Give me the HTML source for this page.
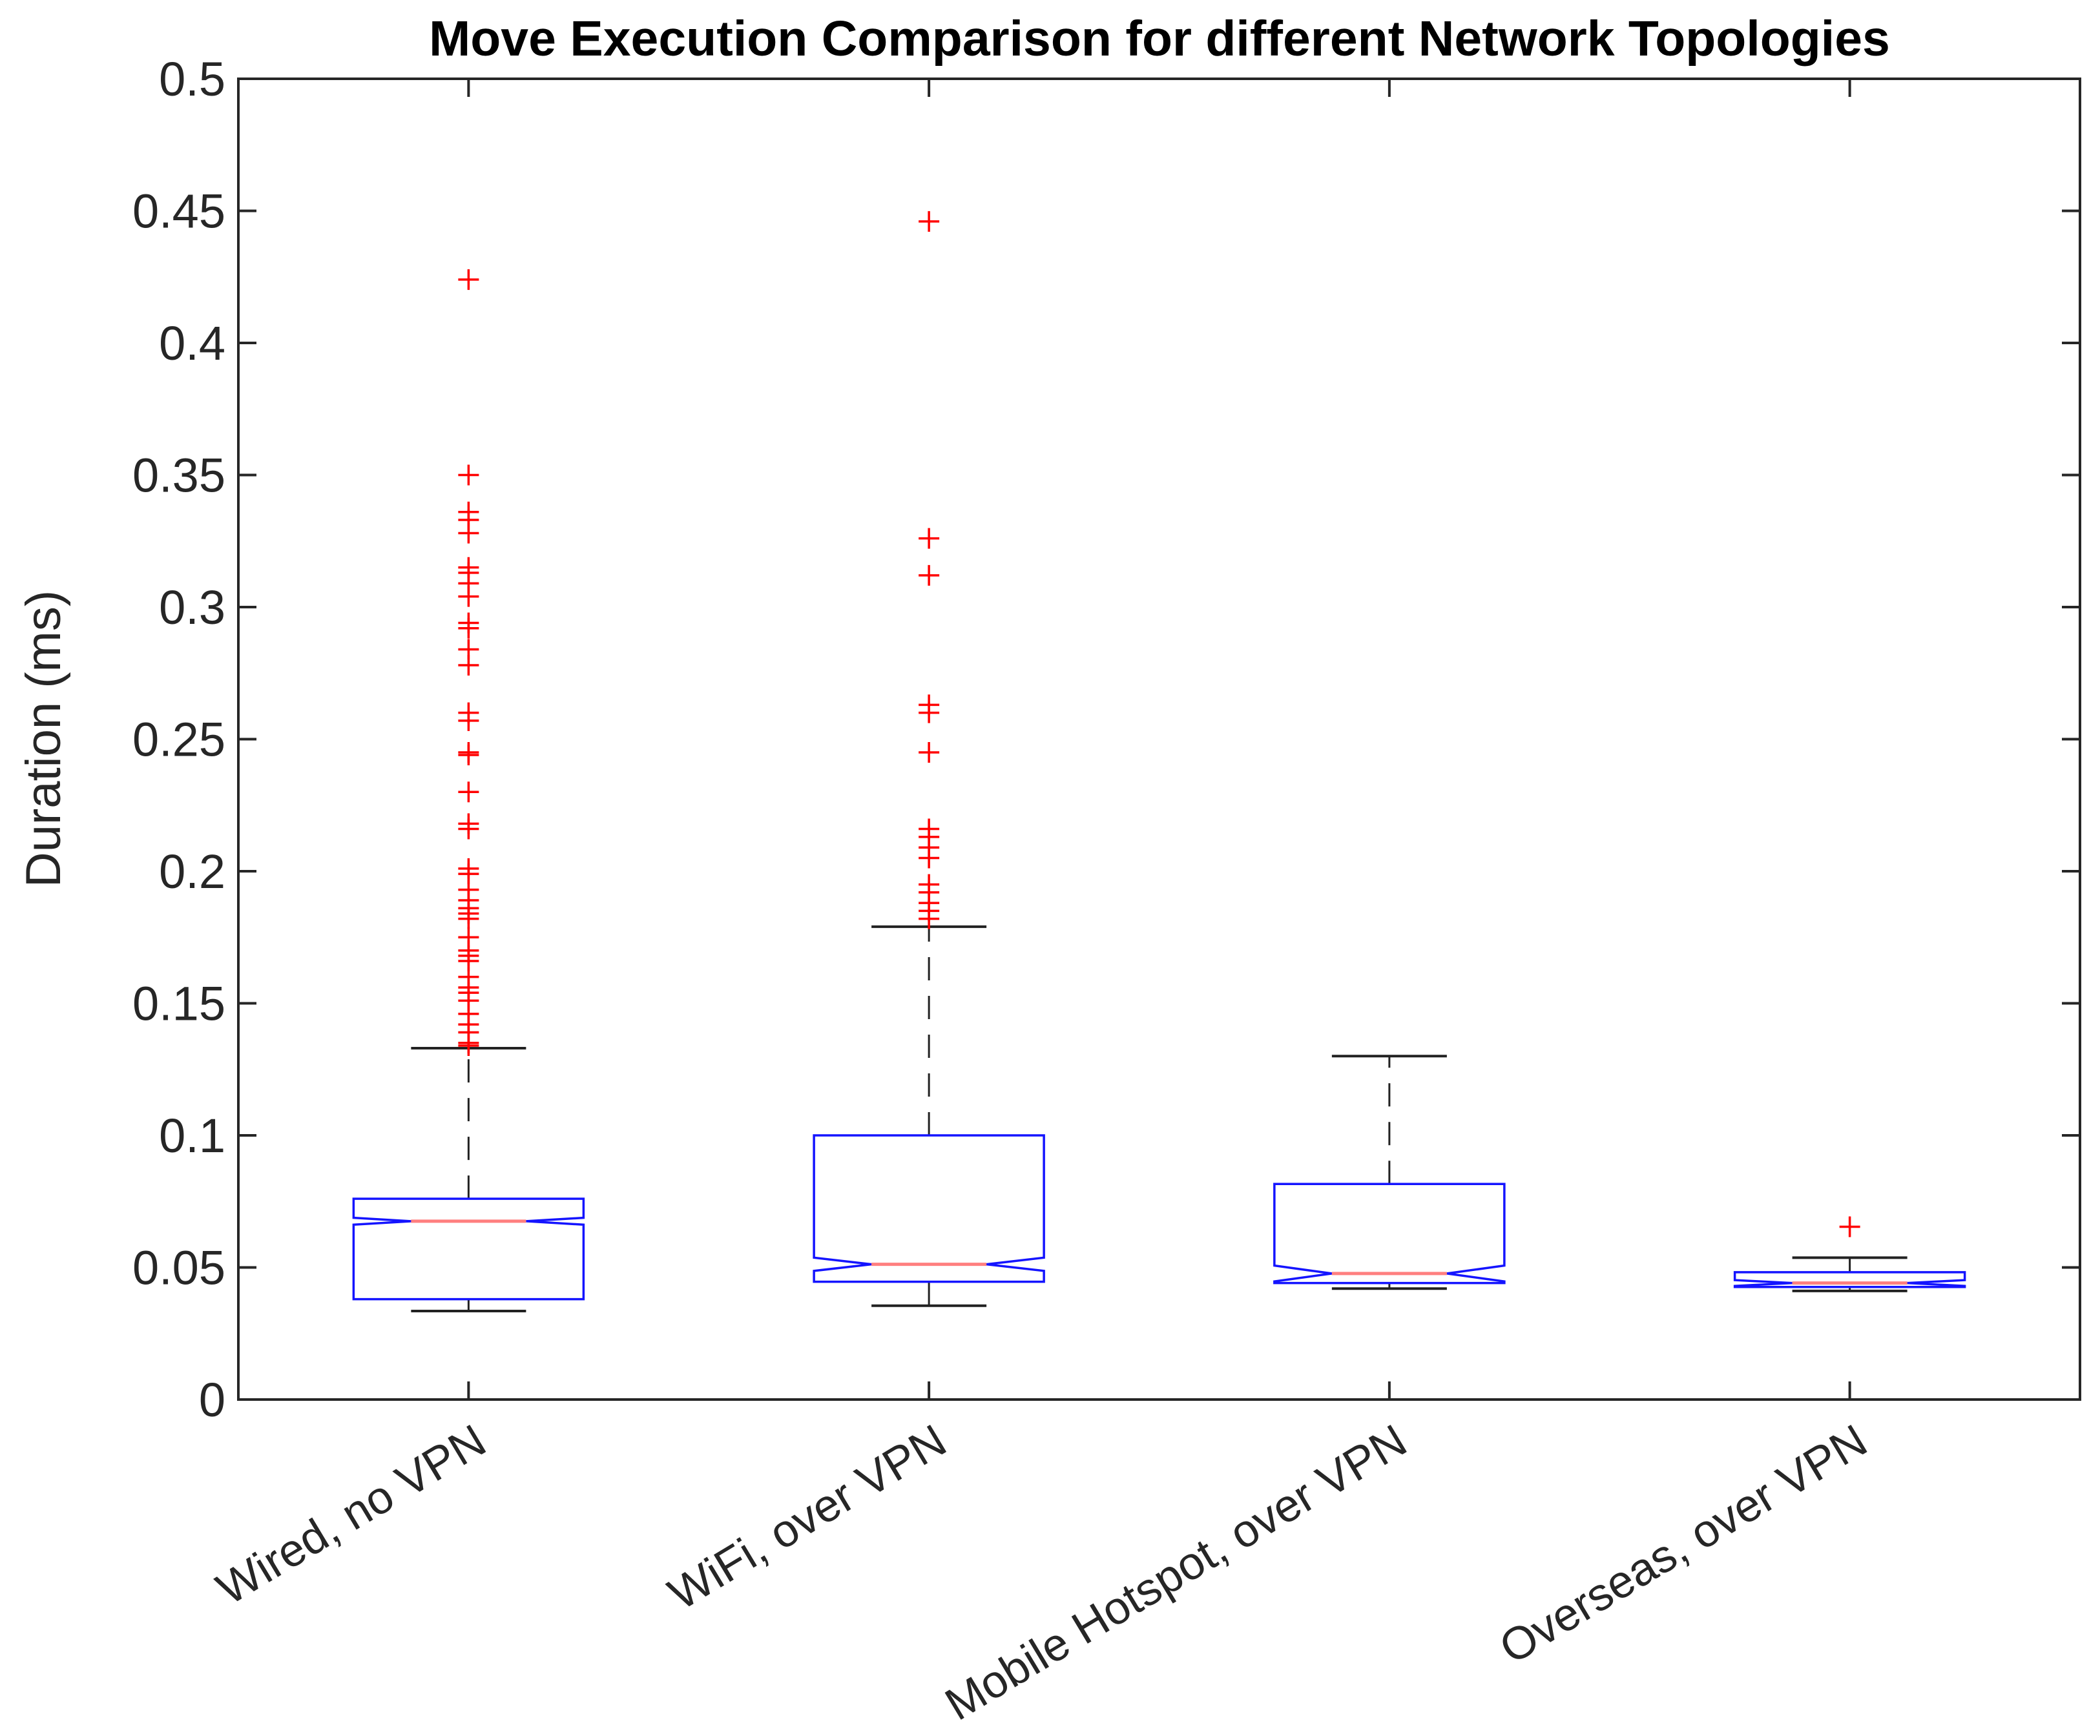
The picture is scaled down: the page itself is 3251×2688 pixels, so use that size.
<!DOCTYPE html>
<html><head><meta charset="utf-8"><style>html,body{margin:0;padding:0;background:#fff}svg{display:block}</style></head>
<body>
<svg id="chart" width="3251" height="2688" viewBox="0 0 3251 2688" xmlns="http://www.w3.org/2000/svg" font-family="Liberation Sans, sans-serif">
<rect x="0" y="0" width="3251" height="2688" fill="#fff"/>
<text x="1795" y="86" text-anchor="middle" font-size="77" font-weight="bold">Move Execution Comparison for different Network Topologies</text>
<text transform="translate(93,1144) rotate(-90)" text-anchor="middle" font-size="76" fill="#262626">Duration (ms)</text>
<g id="plot"></g>
</svg>
<script>
const categories = ["Wired, no VPN","WiFi, over VPN","Mobile Hotspot, over VPN","Overseas, over VPN"];
const q1 = [0.038, 0.0446, 0.0441, 0.0426];
const q3 = [0.076, 0.100, 0.0816, 0.0482];
const medians = [0.0675, 0.0512, 0.0477, 0.0441];
const notchLo = [0.0662, 0.0487, 0.0447, 0.0430];
const notchHi = [0.0688, 0.0537, 0.0507, 0.0452];
const whiskerLo = [0.0335, 0.0355, 0.042, 0.0411];
const whiskerHi = [0.133, 0.179, 0.130, 0.0537];
const outliers0 = [0.424,0.350,0.336,0.333,0.328,0.315,0.313,0.309,0.304,0.294,0.292,0.284,0.278,0.260,0.257,0.245,0.244,0.230,0.218,0.216,0.201,0.199,0.193,0.189,0.186,0.184,0.182,0.175,0.170,0.168,0.166,0.160,0.156,0.154,0.151,0.146,0.142,0.139,0.135,0.134];
const outliers1 = [0.446,0.326,0.312,0.263,0.260,0.245,0.216,0.213,0.209,0.205,0.195,0.192,0.188,0.185,0.182];
const outliers2 = [];
const outliers3 = [0.0654];
const yTicks = [0,0.05,0.1,0.15,0.2,0.25,0.3,0.35,0.4,0.45,0.5];
const yTickLabels = ["0","0.05","0.1","0.15","0.2","0.25","0.3","0.35","0.4","0.45","0.5"];

const L=369, R=3220, T=122, B=2167;
const yMin=0, yMax=0.5;
function yS(v){return B-(v-yMin)/(yMax-yMin)*(B-T);}
function xS(i){return L+(R-L)*(i+0.5)/categories.length;}
const NS="http://www.w3.org/2000/svg";
const g=document.getElementById('plot');
function mk(tag,attrs,parent){const e=document.createElementNS(NS,tag);for(const k in attrs)e.setAttribute(k,attrs[k]);(parent||g).appendChild(e);return e;}

const ax=mk('rect',{x:L,y:T,width:R-L,height:B-T,fill:'none',stroke:'#262626','stroke-width':4});


yTicks.forEach((v,i)=>{
  const y=yS(v);
  const t1=mk('line',{x1:L,x2:L+28,y1:y,y2:y,stroke:'#262626','stroke-width':4});
  
  
  const t2=mk('line',{x1:R,x2:R-28,y1:y,y2:y,stroke:'#262626','stroke-width':4});
  
  
  const lb=mk('text',{x:L-20,y:y+26,'text-anchor':'end','font-size':74,fill:'#262626'});
  lb.textContent=yTickLabels[i];
  
  
});
const outs=[outliers0,outliers1,outliers2,outliers3];
const hw=178, cw=89;
categories.forEach((c,i)=>{
  const x=xS(i);
  const tb=mk('line',{x1:x,x2:x,y1:B,y2:B-28,stroke:'#262626','stroke-width':4});
  
  
  const tt=mk('line',{x1:x,x2:x,y1:T,y2:T+28,stroke:'#262626','stroke-width':4});
  
  
  const lb=mk('text',{transform:`translate(${x+32},${B+78}) rotate(-31)`,'text-anchor':'end','font-size':71,fill:'#262626'});
  lb.textContent=c;
  
  
  const wu=mk('line',{x1:x,x2:x,y1:yS(q3[i]),y2:yS(whiskerHi[i]),stroke:'#222','stroke-width':3,'stroke-dasharray':'36 24'});
  
  
  const wl=mk('line',{x1:x,x2:x,y1:yS(q1[i]),y2:yS(whiskerLo[i]),stroke:'#222','stroke-width':3,'stroke-dasharray':'36 24'});
  
  
  const cu=mk('line',{x1:x-cw,x2:x+cw,y1:yS(whiskerHi[i]),y2:yS(whiskerHi[i]),stroke:'#222','stroke-width':4});
  
  
  const cl=mk('line',{x1:x-cw,x2:x+cw,y1:yS(whiskerLo[i]),y2:yS(whiskerLo[i]),stroke:'#222','stroke-width':4});
  
  
  const a=x-hw,b=x+hw,n=hw/2;
  const pts=[[a,yS(q3[i])],[b,yS(q3[i])],[b,yS(notchHi[i])],[x+n,yS(medians[i])],[b,yS(notchLo[i])],[b,yS(q1[i])],[a,yS(q1[i])],[a,yS(notchLo[i])],[x-n,yS(medians[i])],[a,yS(notchHi[i])]];
  const bx=mk('polygon',{points:pts.map(p=>p.join(',')).join(' '),fill:'none',stroke:'#1414ff','stroke-width':3.5});
  
  
  const md=mk('line',{x1:x-n,x2:x+n,y1:yS(medians[i]),y2:yS(medians[i]),stroke:'#ff7f7f','stroke-width':5});
  
  
  outs[i].forEach(v=>{
    const y=yS(v);
    const p=mk('path',{d:`M${x-16},${y}H${x+16}M${x},${y-16}V${y+16}`,stroke:'#ff0000','stroke-width':3.5,fill:'none'});
    
    
  });
});
</script>
</body></html>
